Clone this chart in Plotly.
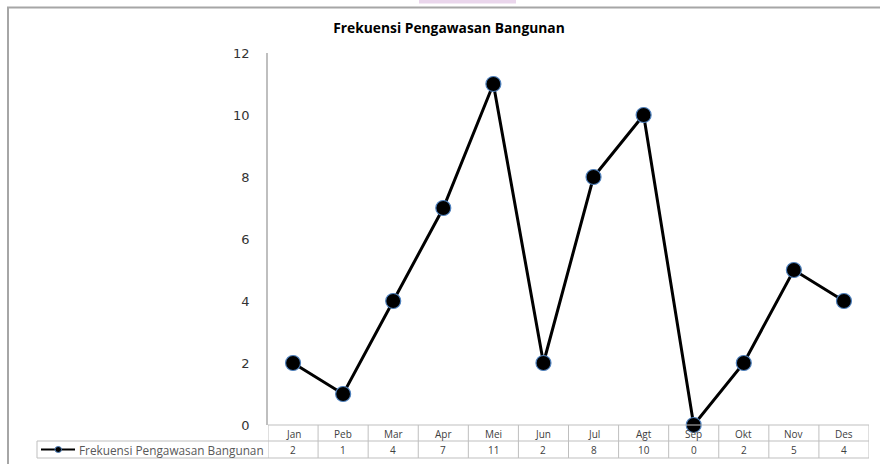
import plotly.graph_objects as go

# data
bulan = ['Jan', 'Peb', 'Mar', 'Apr', 'Mei', 'Jun', 'Jul', 'Agt', 'Sep', 'Okt', 'Nov', 'Des']
frekuensi = [2, 1, 4, 7, 11, 2, 8, 10, 0, 2, 5, 4]
nama_seri = 'Frekuensi Pengawasan Bangunan'
y_ticks = [0, 2, 4, 6, 8, 10, 12]

W, H = 880, 464


def px_x(p):
    return p / W


def px_y(p):
    # pixel from top -> paper
    return (H - p) / H


GRID = '#bfbfbf'
TXT = '#404040'

fig = go.Figure()
fig.add_trace(go.Scatter(
    x=bulan, y=frekuensi, mode='lines+markers', name=nama_seri,
    line=dict(color='black', width=3),
    marker=dict(size=15, color='black', line=dict(color='#4f81bd', width=1.2)),
    cliponaxis=False, showlegend=False,
))

shapes = []
# outer chart frame
shapes.append(dict(type='rect', xref='paper', yref='paper',
                   x0=px_x(8), x1=1.05, y0=-0.1, y1=px_y(7.5),
                   line=dict(color='#a6a6a6', width=2), fillcolor='rgba(0,0,0,0)', layer='below'))
# pink strip at top (cropped from page)
shapes.append(dict(type='rect', xref='paper', yref='paper',
                   x0=px_x(419), x1=px_x(516), y0=px_y(3.5), y1=1.0,
                   line=dict(width=0), fillcolor='#ead6ec', layer='below'))

# data table lines
x_left = px_x(37)
x_right = px_x(869)
for yy in (441, 458):
    shapes.append(dict(type='line', xref='paper', yref='paper', x0=x_left, x1=x_right,
                       y0=px_y(yy), y1=px_y(yy), line=dict(color=GRID, width=1)))
shapes.append(dict(type='line', xref='paper', yref='paper', x0=x_left, x1=x_left,
                   y0=px_y(441), y1=px_y(458), line=dict(color=GRID, width=1)))
for i in range(len(bulan) + 1):
    shapes.append(dict(type='line', xref='x', yref='paper', x0=i - 0.5, x1=i - 0.5,
                       y0=px_y(425), y1=px_y(458), line=dict(color=GRID, width=1)))
shapes.append(dict(type='line', xref='paper', yref='paper', x0=px_x(268), x1=x_right,
                   y0=px_y(425), y1=px_y(425), line=dict(color=GRID, width=1)))

# legend key in table
shapes.append(dict(type='line', xref='paper', yref='paper', x0=px_x(41), x1=px_x(75),
                   y0=px_y(449.5), y1=px_y(449.5), line=dict(color='black', width=2)))
shapes.append(dict(type='circle', xref='paper', yref='paper',
                   x0=px_x(55), x1=px_x(61.5), y0=px_y(452.5), y1=px_y(446.5),
                   fillcolor='black', line=dict(color='#4f81bd', width=1)))

annotations = []
for b in bulan:
    annotations.append(dict(x=b, xref='x', y=px_y(433.5), yref='paper', text=b,
                            yanchor='middle', showarrow=False,
                            font=dict(family='Open Sans', size=10, color=TXT)))
for b, v in zip(bulan, frekuensi):
    annotations.append(dict(x=b, xref='x', y=px_y(449.5), yref='paper', text=str(v),
                            yanchor='middle', showarrow=False,
                            font=dict(family='Open Sans', size=10, color=TXT)))
annotations.append(dict(x=px_x(77), xref='paper', y=px_y(449.5), yref='paper', text=nama_seri,
                        xanchor='left', yanchor='middle', showarrow=False,
                        font=dict(family='Open Sans', size=11.8, color='#595959')))

fig.update_layout(
    width=W, height=H,
    margin=dict(l=0, r=0, t=0, b=0, autoexpand=False),
    paper_bgcolor='white', plot_bgcolor='white',
    title=dict(text='<b>Frekuensi Pengawasan Bangunan</b>', x=px_x(449), xanchor='center',
               y=px_y(28), yanchor='middle',
               font=dict(family='Open Sans', size=13.8, color='black')),
    xaxis=dict(domain=[px_x(268), px_x(869)], range=[-0.5, len(bulan) - 0.5],
               showgrid=False, zeroline=False, showline=False, ticks='',
               showticklabels=False, automargin=False),
    yaxis=dict(domain=[px_y(425), px_y(53)], range=[0, 12], tickvals=y_ticks,
               showgrid=False, zeroline=False, showline=True, linecolor=GRID, linewidth=1.5,
               ticks='', ticklabelstandoff=14, automargin=False,
               tickfont=dict(family='DejaVu Sans', size=13, color='#333333')),
    shapes=shapes,
    annotations=annotations,
    showlegend=False,
)

fig.write_html('out.html', config={'displayModeBar': False},
               post_script="document.body.style.margin='0';document.body.style.overflow='hidden';")
